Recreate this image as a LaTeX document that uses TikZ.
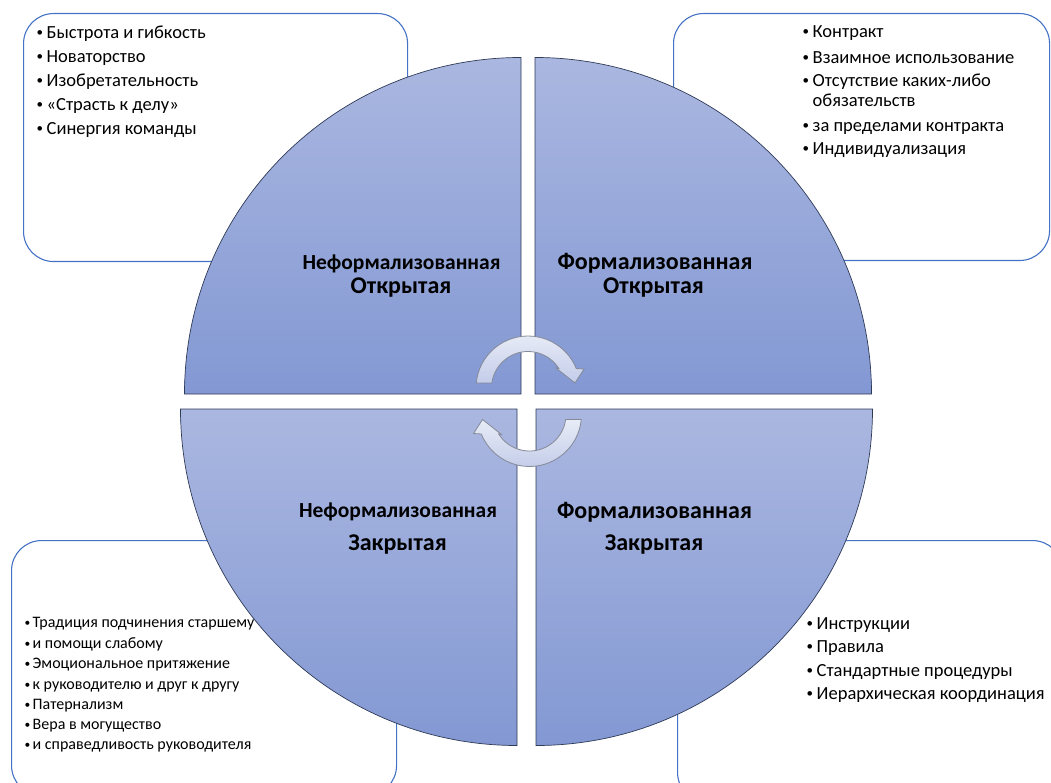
\documentclass[tikz,border=0pt]{standalone}
\usepackage{fontspec}
\setmainfont{Carlito}
\definecolor{boxblue}{HTML}{4472C4}
\definecolor{pietop}{HTML}{AAB7E0}
\definecolor{piebot}{HTML}{8398D3}
\definecolor{pieedge}{HTML}{2E3A56}
\definecolor{arrtop}{HTML}{E8ECF7}
\definecolor{arrbot}{HTML}{C3CCE9}
\definecolor{arredge}{HTML}{858A98}
\newcommand\itembul{\makebox[10.5pt][l]{\hspace{0.5pt}\raisebox{1.5pt}{\fontsize{13}{13}\selectfont•}}}
\newcommand\itembulsm{\makebox[8.5pt][l]{\hspace{0.5pt}\raisebox{1.2pt}{\fontsize{11.5}{11.5}\selectfont•}}}
\begin{document}
\begin{tikzpicture}[x=1pt,y=-1pt,
  box/.style={draw=boxblue, line width=1.1pt, rounded corners=30pt, fill=white, inner sep=0pt, anchor=north west},
  piece/.style={top color=pietop, bottom color=piebot, draw=pieedge, line width=0.7pt},
  carrow/.style={top color=arrtop, bottom color=arrbot, draw=arredge, line width=0.8pt},
  item/.style={anchor=mid west, inner sep=0pt, font=\fontsize{18.5}{22}\selectfont},
  itemsm/.style={item, font=\fontsize{16}{19}\selectfont},
  lab/.style={anchor=mid, inner sep=0pt, font=\bfseries\fontsize{21.5}{25}\selectfont},
  labbig/.style={lab, font=\bfseries\fontsize{24}{28}\selectfont},
  labsec/.style={lab, font=\bfseries\fontsize{24}{28}\selectfont}]
\useasboundingbox (0,0) rectangle (1051,783);
\clip (0,0) rectangle (1051,783);
% corner boxes
\node[box, minimum width=384pt, minimum height=248pt] (tlbox) at (23,13) {};
\node[box, minimum width=376pt, minimum height=247pt] (trbox) at (673,13) {};
\node[box, minimum width=385pt, minimum height=255pt] (blbox) at (11,540) {};
\node[box, minimum width=385pt, minimum height=262pt] (brbox) at (677,540) {};
% quarter pieces
\draw[piece] (521,394) -- (184.5,394) arc[start angle=180, end angle=270, radius=336.5] -- cycle;
\draw[piece] (535,394) -- (535,57.5) arc[start angle=270, end angle=360, radius=336.5] -- cycle;
\draw[piece] (517,409) -- (180.5,409) arc[start angle=180, end angle=90, radius=336.5] -- cycle;
\draw[piece] (536,409) -- (872.5,409) arc[start angle=0, end angle=90, radius=336.5] -- cycle;
% labels
\node[lab] (l1a) at (401.5,267) {Неформализованная};
\node[labsec] (l1b) at (401,291.5) {Открытая};
\node[labbig] (l2a) at (655,267.5) {Формализованная};
\node[labsec] (l2b) at (653.5,291.5) {Открытая};
\node[lab] (l3a) at (398,515) {Неформализованная};
\node[labsec] (l3b) at (397.5,548) {Закрытая};
\node[labbig] (l4a) at (654.5,516) {Формализованная};
\node[labsec] (l4b) at (654,548) {Закрытая};
% circular arrows
\begin{scope}[shift={(528,388)}]
\draw[carrow] (185.5:52) arc[start angle=185.5, end angle=338, radius=52]
  -- (56,-19) -- (47,-5) -- (28,-20) -- (327.7:36.5)
  arc[start angle=327.7, end angle=188, radius=36.5] -- cycle;
\end{scope}
\begin{scope}[shift={(529.5,414.5)}, rotate=180]
\draw[carrow] (185.5:52) arc[start angle=185.5, end angle=338, radius=52]
  -- (56,-19) -- (47,-5) -- (28,-20) -- (327.7:36.5)
  arc[start angle=327.7, end angle=188, radius=36.5] -- cycle;
\end{scope}
% top-left list
\node[item] (tl1) at (36,36) {\itembul Быстрота и гибкость};
\node[item] (tl2) at (36,60) {\itembul Новаторство};
\node[item] (tl3) at (36,84) {\itembul Изобретательность};
\node[item] (tl4) at (36,108) {\itembul «Страсть к делу»};
\node[item] (tl5) at (36,132) {\itembul Синергия команды};
% top-right list
\node[item] (tr1) at (802,35) {\itembul Контракт};
\node[item] (tr2) at (802,61) {\itembul Взаимное использование};
\node[item] (tr3) at (802,84) {\itembul Отсутствие каких-либо};
\node[item] (tr3b) at (812.5,104) {обязательств};
\node[item] (tr4) at (802,129) {\itembul за пределами контракта};
\node[item] (tr5) at (802,152) {\itembul Индивидуализация};
% bottom-left list
\node[itemsm] (bl1) at (24,625) {\itembulsm Традиция подчинения старшему};
\node[itemsm] (bl2) at (24,646) {\itembulsm и помощи слабому};
\node[itemsm] (bl3) at (24,666) {\itembulsm Эмоциональное притяжение};
\node[itemsm] (bl4) at (24,687) {\itembulsm к руководителю и друг к другу};
\node[itemsm] (bl5) at (24,707) {\itembulsm Патернализм};
\node[itemsm] (bl6) at (24,727) {\itembulsm Вера в могущество};
\node[itemsm] (bl7) at (24,747) {\itembulsm и справедливость руководителя};
% bottom-right list
\node[item] (br1) at (806,627) {\itembul Инструкции};
\node[item] (br2) at (806,650) {\itembul Правила};
\node[item] (br3) at (806,674) {\itembul Стандартные процедуры};
\node[item] (br4) at (806,697) {\itembul Иерархическая координация};
\end{tikzpicture}
\end{document}
